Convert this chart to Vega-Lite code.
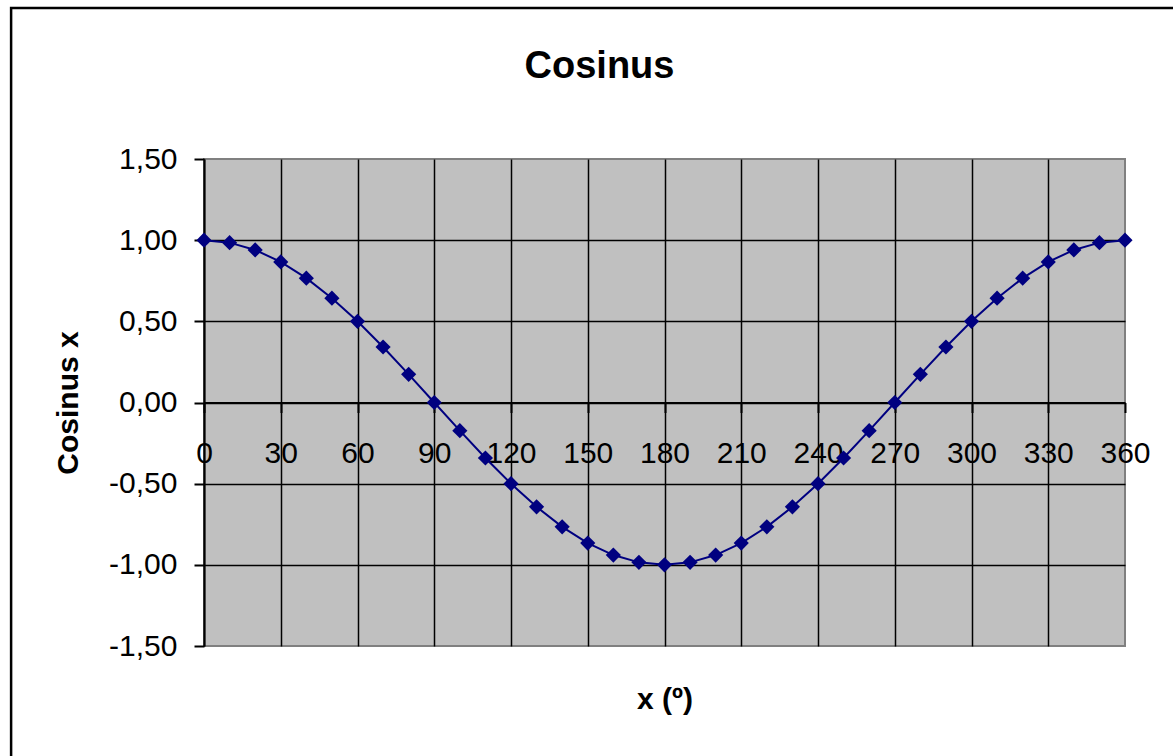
{
  "$schema": "https://vega.github.io/schema/vega-lite/v6.json",
  "autosize": "none",
  "width": 921,
  "height": 487,
  "padding": {"left": 204, "top": 159, "right": 48, "bottom": 110},
  "background": "white",
  "title": {"text": "Cosinus", "font": "Liberation Sans", "fontSize": 38, "fontWeight": "bold", "color": "black", "anchor": "middle", "dx": -65, "baseline": "alphabetic", "offset": 0, "dy": 109},
  "config": {"view": {"fill": "#C0C0C0", "stroke": "#808080", "strokeWidth": 2}},
  "data": {"values": [
    {"x": 0, "y": 1}, {"x": 10, "y": 0.9848}, {"x": 20, "y": 0.9397}, {"x": 30, "y": 0.866}, {"x": 40, "y": 0.766},
    {"x": 50, "y": 0.6428}, {"x": 60, "y": 0.5}, {"x": 70, "y": 0.342}, {"x": 80, "y": 0.1736}, {"x": 90, "y": 0},
    {"x": 100, "y": -0.1736}, {"x": 110, "y": -0.342}, {"x": 120, "y": -0.5}, {"x": 130, "y": -0.6428}, {"x": 140, "y": -0.766},
    {"x": 150, "y": -0.866}, {"x": 160, "y": -0.9397}, {"x": 170, "y": -0.9848}, {"x": 180, "y": -1}, {"x": 190, "y": -0.9848},
    {"x": 200, "y": -0.9397}, {"x": 210, "y": -0.866}, {"x": 220, "y": -0.766}, {"x": 230, "y": -0.6428}, {"x": 240, "y": -0.5},
    {"x": 250, "y": -0.342}, {"x": 260, "y": -0.1736}, {"x": 270, "y": 0}, {"x": 280, "y": 0.1736}, {"x": 290, "y": 0.342},
    {"x": 300, "y": 0.5}, {"x": 310, "y": 0.6428}, {"x": 320, "y": 0.766}, {"x": 330, "y": 0.866}, {"x": 340, "y": 0.9397},
    {"x": 350, "y": 0.9848}, {"x": 360, "y": 1}
  ]},
  "encoding": {
    "x": {"field": "x", "type": "quantitative",
      "scale": {"domain": [0, 360], "nice": false, "zero": false},
      "axis": {"values": [0, 30, 60, 90, 120, 150, 180, 210, 240, 270, 300, 330, 360], "format": "d",
        "offset": -243.5, "labelFont": "Liberation Sans", "labelFontSize": 30, "labelColor": "black", "labelPadding": 26,
        "labelFlush": false, "labelOverlap": false, "tickSize": 10, "tickColor": "black", "tickWidth": 2,
        "domainColor": "black", "domainWidth": 2, "grid": true, "gridColor": "black", "gridWidth": 1.5,
        "gridOpacity": {"condition": {"test": "datum.value === 360", "value": 0}, "value": 1},
        "title": "x (º)", "titleFont": "Liberation Sans", "titleFontSize": 30, "titleFontWeight": "bold", "titleColor": "black",
        "titleBaseline": "alphabetic", "titleY": 306, "titleX": 460.5}},
    "y": {"field": "y", "type": "quantitative",
      "scale": {"domain": [-1.5, 1.5], "nice": false, "zero": false},
      "axis": {"values": [-1.5, -1, -0.5, 0, 0.5, 1, 1.5],
        "labelExpr": "(datum.value < 0 ? '-' : '') + replace(format(abs(datum.value), '.2f'), '.', ',')",
        "labelFont": "Liberation Sans", "labelFontSize": 30, "labelColor": "black", "labelPadding": 17,
        "labelFlush": false, "labelOverlap": false, "tickSize": 10, "tickColor": "black", "tickWidth": 2,
        "domainColor": "black", "domainWidth": 2, "grid": true, "gridColor": "black", "gridWidth": 1.5,
        "gridOpacity": {"condition": {"test": "abs(datum.value) === 1.5", "value": 0}, "value": 1},
        "title": "Cosinus x", "titleFont": "Liberation Sans", "titleFontSize": 30, "titleFontWeight": "bold", "titleColor": "black",
        "titleBaseline": "alphabetic", "titleAngle": 270, "titleX": -127, "titleY": 243.5}}
  },
  "layer": [
    {"data": {"values": [{"x0": -75.4, "x1": 420, "y0": 2.43, "y1": -2.6}]},
     "mark": {"type": "rect", "fill": "transparent", "stroke": "black", "strokeWidth": 2.5, "clip": false},
     "encoding": {
       "x": {"field": "x0", "type": "quantitative"},
       "x2": {"field": "x1"},
       "y": {"field": "y0", "type": "quantitative"},
       "y2": {"field": "y1"}
     }},
    {"mark": {"type": "line", "color": "#000080", "strokeWidth": 2}},
    {"mark": {"type": "point", "shape": "diamond", "filled": true, "size": 230, "color": "#000080", "opacity": 1}}
  ]
}
